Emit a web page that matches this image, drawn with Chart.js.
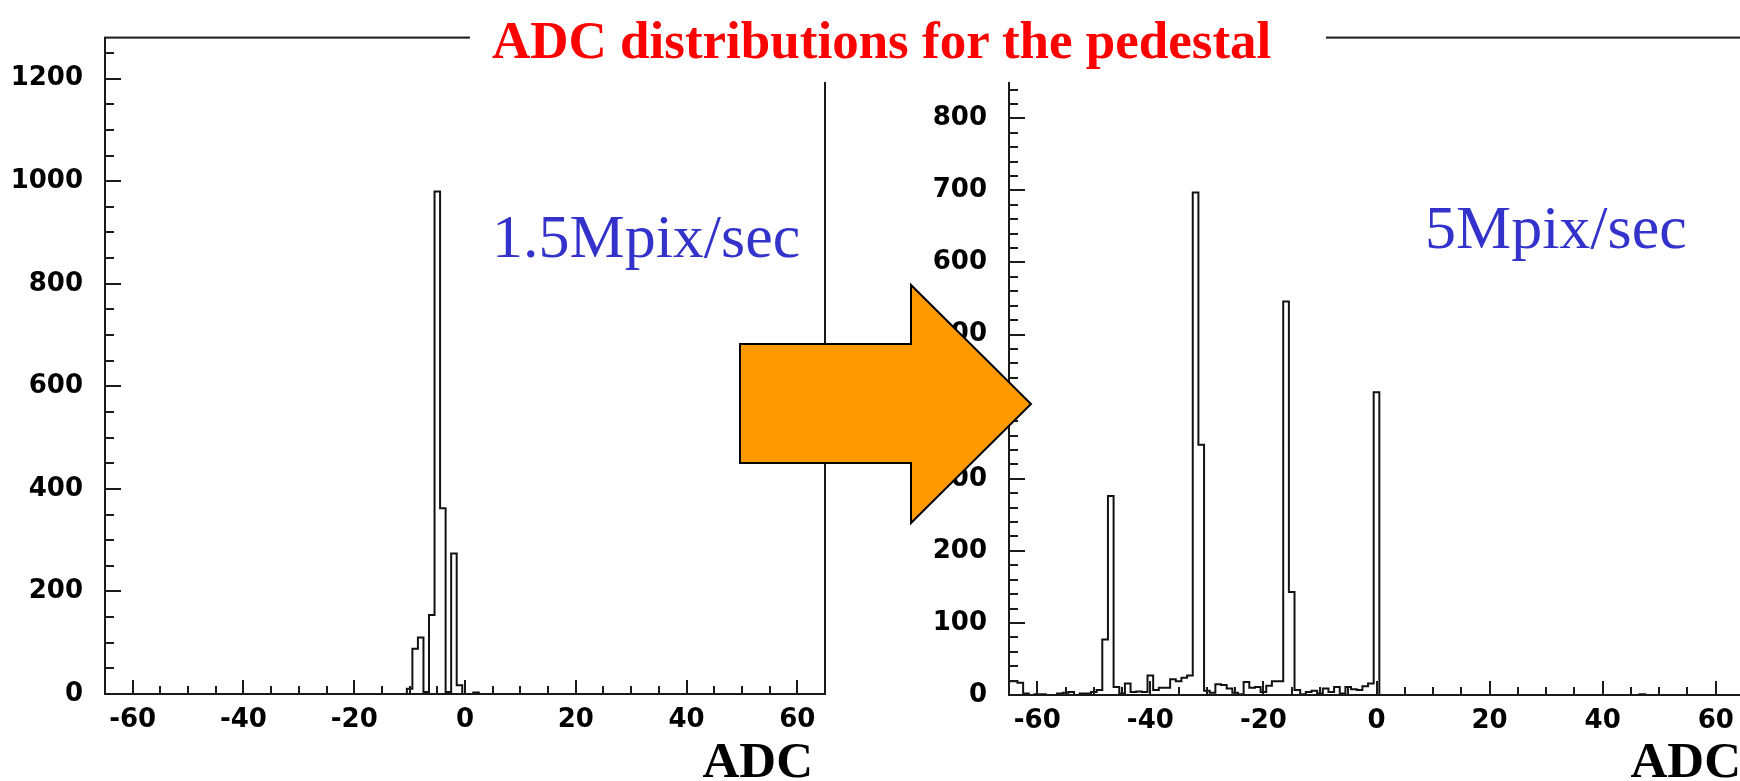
<!DOCTYPE html>
<html>
<head>
<meta charset="utf-8">
<script src="https://cdn.jsdelivr.net/npm/chart.js@4.4.1/dist/chart.umd.min.js"></script>
<style>
  body { margin: 0; width: 1740px; height: 781px; overflow: hidden; background: #fff; position: relative; }
  .panel { position: absolute; top: 0; height: 781px; width: 860px; }
  #overlay { position: absolute; left: 0; top: 0; }
  .title { font: bold 53px 'Liberation Serif', serif; fill: #ff0000; }
  .rate { font: 62px 'Liberation Serif', serif; fill: #3333cc; }
  .axis { font: bold 51px 'Liberation Serif', serif; fill: #000; }
</style>
</head>
<body>
<div class="panel" style="left:0px"><canvas id="slow"></canvas></div>
<div class="panel" style="left:900px"><canvas id="fast"></canvas></div>
<svg id="overlay" width="1740" height="781">
  <rect x="470" y="0" width="856" height="82" fill="#fff"/>
  <text class="title" x="492" y="58">ADC distributions for the pedestal</text>
  <text class="rate" x="492" y="257">1.5Mpix/sec</text>
  <text class="rate" x="1425" y="248">5Mpix/sec</text>
  <polygon points="740,344 911,344 911,285 1031,404 911,523 911,463 740,463" fill="#ff9900" stroke="#000" stroke-width="2"/>
  <text class="axis" x="813" y="777" text-anchor="end">ADC</text>
  <text class="axis" x="1741" y="777" text-anchor="end">ADC</text>
</svg>
<script>
// 1.5 Mpix/sec readout
const slowAdc = [-11, -10, -9, -8, -7, -6, -5, -4, -3, -2, -1, 0, 1, 2, 3];
const slowCounts = [0, 10, 88, 110, 4, 154, 980, 362, 4, 274, 17, 0, 0, 3, 0];

// 5 Mpix/sec readout
const fastAdc = [-65, -64, -63, -62, -61, -60, -59, -58, -57, -56, -55, -54, -53, -52, -51, -50,
  -49, -48, -47, -46, -45, -44, -43, -42, -41, -40, -39, -38, -37, -36, -35, -34, -33,
  -32, -31, -30, -29, -28, -27, -26, -25, -24, -23, -22, -21, -20, -19, -18, -17,
  -16, -15, -14, -13, -12, -11, -10, -9, -8, -7, -6, -5, -4, -3, -2, -1, 0, 1, 46, 47, 48];
const fastCounts = [19, 19, 17, 2, 0, 1, 1, 0, 0, 2, 3, 4, 0, 2, 2, 4,
  7, 77, 276, 11, 2, 16, 4, 5, 4, 27, 7, 10, 10, 22, 19, 24, 27,
  697, 347, 6, 3, 15, 14, 9, 3, 1, 18, 10, 11, 4, 13, 19, 19,
  546, 143, 7, 1, 4, 6, 2, 9, 4, 11, 2, 11, 8, 7, 12, 16, 420, 0, 0, 1, 0];

const xTickLabels = [-60, -40, -20, 0, 20, 40, 60];

// ROOT style frame with ticks pointing inward
const frameTicks = {
  id: 'frameTicks',
  afterDraw(chart, args, opts) {
    const {ctx, chartArea: a, scales: {x, y}} = chart;
    ctx.save();
    ctx.strokeStyle = '#1a1a1a';
    ctx.lineWidth = 2;
    ctx.strokeRect(a.left, a.top, a.right - a.left, a.bottom - a.top);
    ctx.beginPath();
    for (let v = Math.ceil(x.min / 5) * 5; v <= x.max; v += 5) {
      const px = Math.round(x.getPixelForValue(v));
      const len = v % 20 === 0 ? 14 : 8;
      ctx.moveTo(px, a.bottom);
      ctx.lineTo(px, a.bottom - len);
    }
    for (let v = 0; v <= y.max; v += opts.yMinor) {
      const py = Math.round(y.getPixelForValue(v));
      const len = v % opts.yMajor === 0 ? 16 : 9;
      ctx.moveTo(a.left, py);
      ctx.lineTo(a.left + len, py);
    }
    ctx.stroke();
    ctx.restore();
  }
};

function histChart(id, adc, counts, o) {
  const tickFont = {family: 'DejaVu Sans', weight: 'bold', size: 26};
  return new Chart(document.getElementById(id), {
    type: 'line',
    data: {
      datasets: [{
        data: adc.map((v, i) => ({x: v, y: counts[i]})),
        stepped: 'middle',
        borderColor: '#111',
        borderWidth: 2,
        pointRadius: 0,
        fill: false
      }]
    },
    options: {
      responsive: true,
      maintainAspectRatio: false,
      animation: false,
      layout: {padding: {left: 0, top: o.top, right: o.right, bottom: 0}},
      plugins: {
        legend: {display: false},
        tooltip: {enabled: false},
        frameTicks: {yMinor: o.yMinor, yMajor: o.yStep}
      },
      scales: {
        x: {
          type: 'linear',
          min: -65,
          max: 65,
          grid: {display: false, drawTicks: false},
          border: {display: false},
          afterBuildTicks: s => { s.ticks = xTickLabels.map(v => ({value: v})); },
          afterFit: s => { s.height = o.xHeight; },
          ticks: {font: tickFont, color: '#000', padding: 11, maxRotation: 0, callback: v => String(v)}
        },
        y: {
          min: 0,
          max: o.yMax,
          grid: {display: false, drawTicks: false},
          border: {display: false},
          afterFit: s => { s.width = o.yWidth; },
          ticks: {font: tickFont, color: '#000', padding: 22, stepSize: o.yStep, includeBounds: false,
            callback: v => String(v)}
        }
      }
    },
    plugins: [frameTicks]
  });
}

histChart('slow', slowAdc, slowCounts, {top: 12, right: 35, yWidth: 105, xHeight: 87, yMax: 1280, yStep: 200, yMinor: 50});
histChart('fast', fastAdc, fastCounts, {top: 13, right: 16, yWidth: 109, xHeight: 86, yMax: 912, yStep: 100, yMinor: 20});
</script>
</body>
</html>
